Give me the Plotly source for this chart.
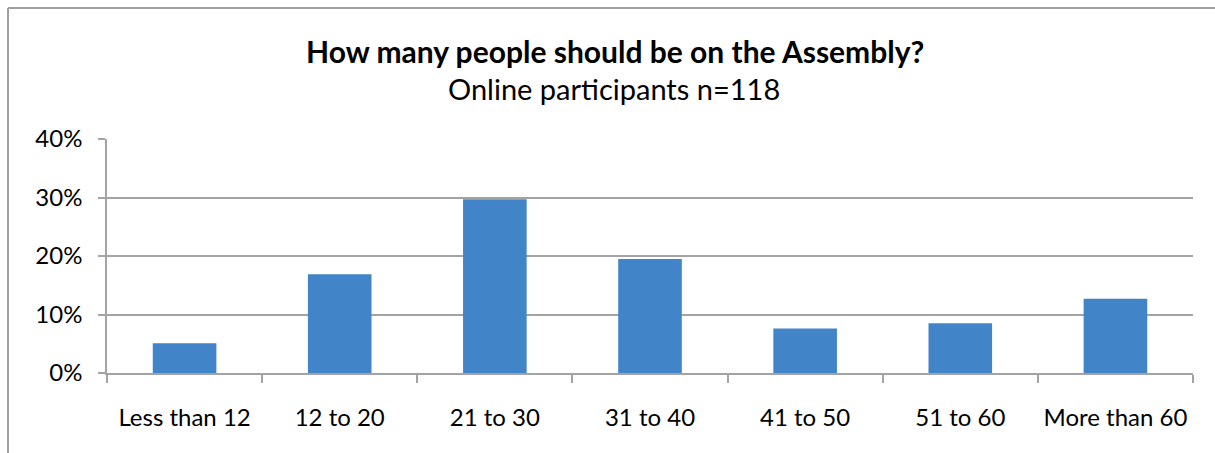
import plotly.graph_objects as go

categories = ["Less than 12", "12 to 20", "21 to 30", "31 to 40", "41 to 50", "51 to 60", "More than 60"]
percent_values = [5.1, 16.9, 29.7, 19.5, 7.6, 8.5, 12.7]
y_tick_values = [0, 10, 20, 30, 40]
y_tick_labels = ["0%", "10%", "20%", "30%", "40%"]
title_text = "How many people should be on the Assembly?"
subtitle_text = "Online participants n=118"

W, H = 1215, 453
L, R, T, B = 107, 22, 139, 80
pw, ph = W - L - R, H - T - B

def px_x(x):
    return (x - L) / pw

def px_y(y):
    return (H - B - y) / ph

FONT = "Lato, 'Open Sans', sans-serif"
GRID = "#a3a3a3"

fig = go.Figure()
fig.add_trace(go.Bar(
    x=categories, y=percent_values,
    marker=dict(color="#4284c8", line=dict(width=0)),
    width=0.41,
    hoverinfo="x+y",
))

fig.update_layout(
    width=W, height=H,
    margin=dict(l=L, r=R, t=T, b=B, pad=0),
    paper_bgcolor="white", plot_bgcolor="white",
    showlegend=False,
    font=dict(family=FONT, size=24, color="#000"),
    xaxis=dict(
        type="category",
        tickson="boundaries",
        ticks="outside", ticklen=8, tickcolor=GRID, tickwidth=1.5,
        showline=True, linecolor=GRID, linewidth=1.5,
        showgrid=False,
        tickfont=dict(size=24, family=FONT, color="#000"),
        ticklabelstandoff=22,
        range=[-0.5, 6.5],
    ),
    yaxis=dict(
        range=[0, 40],
        tickvals=y_tick_values, ticktext=y_tick_labels,
        ticks="outside", ticklen=7, tickcolor=GRID, tickwidth=1.5,
        showline=True, linecolor=GRID, linewidth=1.5,
        showgrid=True, gridcolor=GRID, gridwidth=1.5,
        zeroline=False,
        tickfont=dict(size=24, family=FONT, color="#000"),
        ticklabelstandoff=11,
    ),
    annotations=[
        dict(text="<b>" + title_text + "</b>", x=px_x(615), y=px_y(51),
             xref="paper", yref="paper", xanchor="center", yanchor="middle",
             showarrow=False, font=dict(size=30, family=FONT, color="#000")),
        dict(text=subtitle_text, x=px_x(614), y=px_y(88),
             xref="paper", yref="paper", xanchor="center", yanchor="middle",
             showarrow=False, font=dict(size=29, family=FONT, color="#000")),
    ],
    shapes=[
        dict(type="line", xref="paper", yref="paper",
             x0=px_x(8), y0=px_y(H + 5), x1=px_x(8), y1=px_y(8),
             line=dict(color="#a0a0a0", width=2)),
        dict(type="line", xref="paper", yref="paper",
             x0=px_x(8), y0=px_y(8), x1=px_x(W + 5), y1=px_y(8),
             line=dict(color="#a0a0a0", width=2)),
    ],
)

fig.write_html("out.html")
